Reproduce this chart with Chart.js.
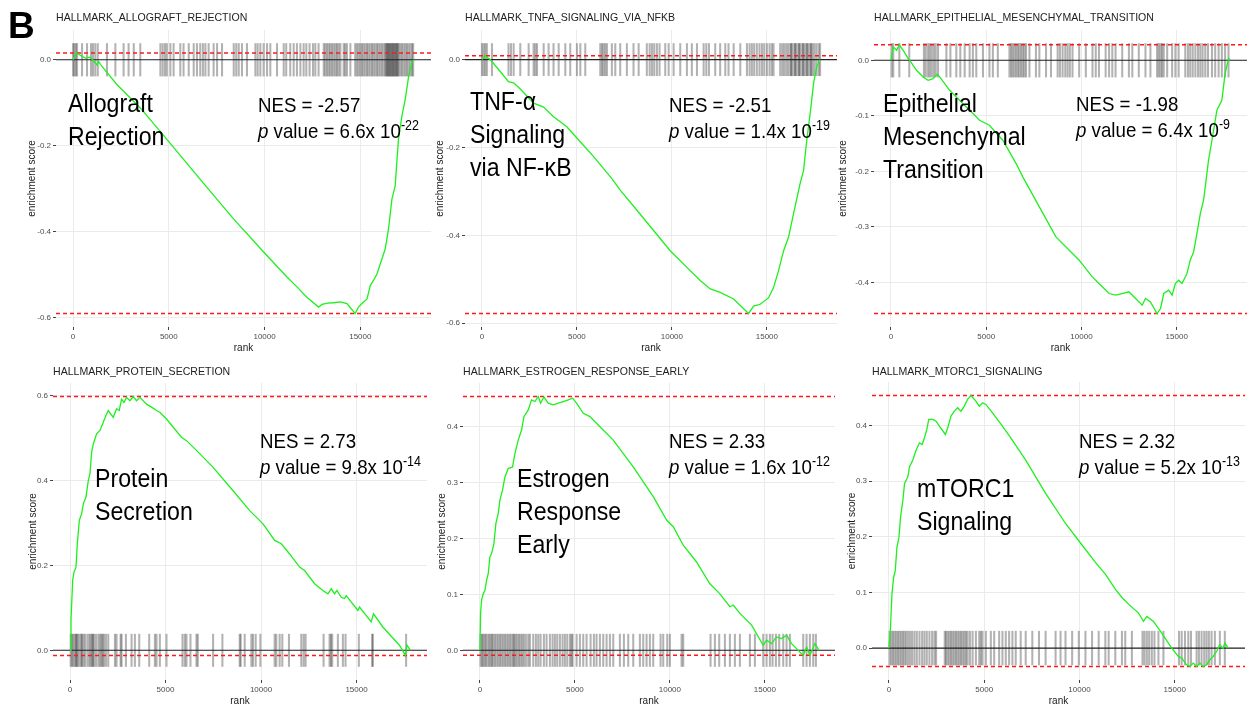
<!DOCTYPE html>
<html>
<head>
<meta charset="utf-8">
<script src="https://cdn.jsdelivr.net/npm/chart.js@4.4.1/dist/chart.umd.min.js"></script>
<style>
  html, body { margin: 0; padding: 0; background: #fff; }
  #page { position: relative; width: 1253px; height: 706px; overflow: hidden; font-family: "Liberation Sans", Arial, sans-serif; }
  #page canvas { position: absolute; }
  .txt { position: absolute; white-space: nowrap; color: #000; transform-origin: 0 0; z-index: 2; }
  .title { font-size: 11px; line-height: 13px; color: #222; transform: scaleX(0.96); }
  .name { font-size: 26px; line-height: 33px; transform: scaleX(0.89); }
  .stat { font-size: 21px; line-height: 26px; transform: scaleX(0.89); }
  .stat .sup { position: relative; top: -8px; font-size: 14px; }
  .letter { font-size: 37px; line-height: 37px; font-weight: bold; }
</style>
</head>
<body>
<div id="page"></div>
<script>
// ranked list size and x ticks
const geneCount = 17800;
const xTickValues = [0, 5000, 10000, 15000];

// HALLMARK_ALLOGRAFT_REJECTION
const allograftRank = [0,170,400,640,900,1100,1250,1340,1500,2300,3510,4900,6640,8380,9950,11170,11690,12210,12820,13000,13300,13600,13950,14300,14730,14900,15100,15350,15520,15700,15870,16040,16300,16470,16650,16820,16990,17170,17340,17520,17700,17800];
const allograftES = [0,0.016,0.010,0.004,0.006,-0.004,-0.012,-0.004,-0.015,-0.058,-0.112,-0.185,-0.278,-0.370,-0.447,-0.505,-0.528,-0.552,-0.575,-0.569,-0.566,-0.565,-0.563,-0.567,-0.590,-0.575,-0.566,-0.556,-0.525,-0.512,-0.498,-0.475,-0.440,-0.394,-0.324,-0.293,-0.185,-0.131,-0.093,-0.039,-0.005,0];
const allograftHits = [0,70,140,210,470,730,940,1040,1160,1290,1770,2210,2640,2900,3170,3510,4560,4680,4800,4900,5080,5250,5600,5770,6040,6300,6470,6640,6780,6910,7080,7340,7520,7780,8390,8520,8650,8820,9080,9520,9640,9780,9950,10130,10300,10650,11000,11130,11340,11520,11690,11870,12040,12180,12350,12530,12650,12820,13090,13170,13260,13350,13430,13520,13610,13700,13780,13870,13960,14130,14210,14300,14480,14730,14820,14910,15000,15090,15170,15260,15350,15430,15520,15610,15690,15780,15870,15950,16040,16130,16220,16300,16350,16390,16440,16480,16520,16560,16610,16650,16700,16740,16780,16830,16870,16910,16960,17000,17090,17170,17260,17350,17430,17520,17610,17700,17760];

// HALLMARK_TNFA_SIGNALING_VIA_NFKB
const tnfaRank = [0,175,300,440,965,1400,1670,2020,2720,3250,3770,4470,5175,5880,6840,7280,8160,9035,9910,10790,11490,12020,12540,13250,14035,14300,14650,15090,15350,15610,15880,16140,16400,16750,16930,17100,17280,17460,17630,17800];
const tnfaES = [0,0.009,0.004,0.000,-0.027,-0.050,-0.053,-0.067,-0.099,-0.108,-0.130,-0.153,-0.187,-0.221,-0.271,-0.297,-0.343,-0.389,-0.435,-0.473,-0.503,-0.522,-0.530,-0.545,-0.578,-0.561,-0.557,-0.542,-0.519,-0.481,-0.435,-0.404,-0.351,-0.282,-0.252,-0.183,-0.122,-0.053,-0.015,0];
const tnfaHits = [0,90,175,260,530,1400,1530,1670,2020,2460,2720,2810,2900,3250,3510,3770,4040,4390,4650,5000,5180,5440,6230,6320,6400,6490,6580,6840,7020,7280,7630,7980,8250,8680,8830,8950,9070,9210,9350,9650,9830,10090,10440,10790,11050,11320,11670,11810,11950,12280,12540,12810,12980,13250,13600,13950,14090,14210,14330,14470,14610,14740,14860,15000,15140,15260,15350,15700,15810,15910,16020,16120,16230,16280,16330,16440,16490,16540,16650,16700,16750,16860,16910,16970,17070,17120,17180,17280,17330,17390,17490,17600,17720,17800];

// HALLMARK_EPITHELIAL_MESENCHYMAL_TRANSITION
const emtRank = [0,120,300,435,645,905,990,1340,1690,1950,2210,2420,2560,3080,3600,4130,4650,5170,5870,6570,6920,7790,8660,9530,9880,10570,10920,11450,11790,12140,12490,12840,13190,13360,13620,13970,14150,14320,14580,14760,14930,15100,15280,15540,15710,15890,16060,16240,16410,16500,16670,16850,17110,17370,17540,17720,17800];
const emtES = [0,0.024,0.018,0.028,0.018,0.003,0,-0.018,-0.030,-0.036,-0.033,-0.025,-0.030,-0.054,-0.072,-0.090,-0.108,-0.117,-0.144,-0.186,-0.210,-0.264,-0.318,-0.348,-0.360,-0.390,-0.402,-0.420,-0.423,-0.420,-0.417,-0.429,-0.441,-0.429,-0.435,-0.456,-0.447,-0.420,-0.414,-0.423,-0.402,-0.396,-0.402,-0.384,-0.360,-0.345,-0.312,-0.276,-0.252,-0.228,-0.180,-0.144,-0.090,-0.072,-0.024,0.003,0];
const emtHits = [35,120,440,960,1730,1830,1950,2040,2140,2250,2350,2470,2910,3120,3430,3640,3870,4130,4300,4480,4830,5170,5350,5610,6220,6310,6390,6480,6570,6660,6740,6830,6920,7000,7090,7270,7610,7790,8140,8400,8750,8870,9010,9150,9270,9390,9530,9880,10230,10580,10750,10920,11270,11450,11620,11790,12140,12490,12670,13010,13360,13620,13970,14060,14150,14230,14320,14500,14760,14930,15100,15450,15590,15710,15840,15980,16120,16240,16360,16500,16640,16850,17020,17200,17370,17540,17720];

// HALLMARK_PROTEIN_SECRETION
const proteinRank = [0,52,140,210,314,383,488,610,697,836,958,1045,1132,1220,1394,1568,1707,1881,2003,2265,2439,2578,2700,2822,2962,3136,3310,3484,3659,4007,4268,4530,4704,5052,5836,6098,6620,7491,8537,9408,10105,10714,11063,11498,12021,12282,12805,13240,13502,13676,13850,13972,14199,14373,14460,15070,15157,15767,15889,16376,17247,17561,17631,17820];
const proteinES = [0,0.071,0.165,0.184,0.196,0.251,0.306,0.322,0.345,0.361,0.400,0.416,0.467,0.486,0.510,0.518,0.533,0.553,0.565,0.549,0.569,0.565,0.592,0.584,0.596,0.588,0.598,0.588,0.596,0.580,0.573,0.565,0.561,0.545,0.502,0.494,0.471,0.431,0.376,0.329,0.298,0.259,0.251,0.227,0.196,0.188,0.157,0.141,0.133,0.145,0.133,0.141,0.125,0.122,0.129,0.094,0.102,0.067,0.086,0.055,0.012,-0.012,0.013,0];
const proteinHits = [35,105,174,244,314,350,401,488,575,630,697,784,906,1010,1080,1150,1200,1254,1359,1481,1568,1655,1700,1777,1882,2003,2352,2439,2648,2700,2927,3223,3397,3624,4146,4443,4530,4704,5052,5889,6010,6098,6307,6620,6690,7491,7979,8885,8937,9146,9495,9582,9721,9965,10714,10801,10976,11115,11463,12108,12230,12334,13275,13589,13659,13728,14024,14286,14425,15122,15819,15854,17596];

// HALLMARK_ESTROGEN_RESPONSE_EARLY
const estrogenRank = [0,35,88,175,263,351,439,526,614,737,842,965,1053,1193,1316,1491,1719,1842,2018,2193,2316,2544,2719,2895,3070,3193,3368,3596,3860,4123,4386,4649,4877,5088,5439,5789,6316,7018,8070,9123,9825,10175,10702,11404,12105,12632,13158,13333,13684,14298,14912,15088,15351,15614,15877,16140,16404,17018,17193,17368,17632,17850];
const estrogenES = [0,0.066,0.090,0.101,0.107,0.125,0.137,0.167,0.173,0.191,0.227,0.245,0.269,0.287,0.310,0.325,0.328,0.352,0.376,0.394,0.418,0.430,0.448,0.445,0.454,0.442,0.453,0.442,0.439,0.442,0.445,0.448,0.451,0.442,0.424,0.418,0.400,0.376,0.328,0.275,0.233,0.221,0.188,0.158,0.119,0.101,0.078,0.081,0.066,0.045,0.009,0.018,0.012,0.024,0.021,0.027,0.012,-0.009,0.006,-0.009,0.012,0];
const estrogenHits = [35,105,175,246,316,404,491,561,632,702,789,877,965,1053,1140,1228,1316,1404,1491,1579,1667,1754,1807,1877,1965,2053,2140,2228,2316,2421,2544,2632,2807,2947,3070,3193,3368,3509,3684,3825,3947,4070,4211,4351,4474,4596,4737,4825,4877,5088,5263,5439,5614,5825,6000,6140,6316,6491,6667,6842,7018,7368,7579,7807,8070,8421,8596,8772,8947,9123,9509,9649,9860,10000,10614,10702,12140,12368,12596,12895,13158,13421,13684,14211,14474,14912,15088,15263,15404,15579,15754,15965,16140,16316,17018,17193,17368,17544,17684];

// HALLMARK_MTORC1_SIGNALING
const mtorcRank = [0,70,157,244,331,418,523,610,732,819,993,1080,1254,1429,1603,1742,1864,1986,2091,2300,2474,2648,2962,3084,3258,3432,3606,3780,3955,4129,4303,4564,4739,4913,5087,5436,5958,6394,7178,8223,9268,9965,10836,11359,11882,12230,12578,13101,13362,13537,13885,14321,14843,15192,15366,15627,15801,15976,16150,16324,16498,16672,16847,17021,17195,17369,17544,17631,17805];
const mtorcES = [0,0.030,0.097,0.127,0.139,0.181,0.199,0.236,0.266,0.296,0.308,0.326,0.338,0.356,0.369,0.366,0.378,0.393,0.411,0.411,0.408,0.399,0.384,0.396,0.417,0.426,0.432,0.426,0.435,0.447,0.454,0.444,0.435,0.441,0.438,0.423,0.399,0.378,0.338,0.278,0.224,0.193,0.154,0.133,0.106,0.091,0.079,0.063,0.048,0.057,0.048,0.027,0,-0.015,-0.018,-0.030,-0.033,-0.027,-0.033,-0.027,-0.033,-0.030,-0.021,-0.015,-0.006,0.006,0,0.009,0];
const mtorcHits = [35,122,209,296,383,470,557,645,732,819,906,1010,1115,1220,1341,1463,1603,1742,1864,1986,2125,2265,2387,2474,2927,2997,3084,3171,3258,3345,3432,3519,3606,3693,3780,3868,3955,4042,4129,4251,4390,4564,4739,4826,4913,5087,5348,5523,5784,5958,6132,6307,6481,6655,6916,7178,7526,7875,8223,8746,9007,9268,9617,9965,10314,10662,11010,11359,11533,11882,12230,12404,12753,13310,13415,13537,13659,13798,13937,14146,14408,15226,15366,15540,15714,15854,16150,16272,16411,16551,16672,16794,16934,17108,17369,17631];

// texts
const panelTitles = ['HALLMARK_ALLOGRAFT_REJECTION', 'HALLMARK_TNFA_SIGNALING_VIA_NFKB', 'HALLMARK_EPITHELIAL_MESENCHYMAL_TRANSITION', 'HALLMARK_PROTEIN_SECRETION', 'HALLMARK_ESTROGEN_RESPONSE_EARLY', 'HALLMARK_MTORC1_SIGNALING'];
const pathwayNames = [['Allograft', 'Rejection'], ['TNF-α', 'Signaling', 'via NF-κB'], ['Epithelial', 'Mesenchymal', 'Transition'], ['Protein', 'Secretion'], ['Estrogen', 'Response', 'Early'], ['mTORC1', 'Signaling']];
const nesValues = ['-2.57', '-2.51', '-1.98', '2.73', '2.33', '2.32'];
const pMantissa = ['6.6', '1.4', '6.4', '9.8', '1.6', '5.2'];
const pExponent = ['-22', '-19', '-9', '-14', '-12', '-13'];
const yTickSteps = [0.2, 0.2, 0.1, 0.2, 0.1, 0.1];

// layout (page pixels): plot box [left, top, right, bottom], label and stat anchors (left, baseline)
const panelLayout = [
    { box: [56, 30, 431, 327], yTitleGap: 24, name: [68, 112], stat: [258, 112] },
    { box: [465, 30, 837, 327], yTitleGap: 25, name: [470, 110], stat: [669, 112] },
    { box: [874, 30, 1247, 327], yTitleGap: 31, name: [883, 112], stat: [1076, 111] },
    { box: [53, 383, 427, 680], yTitleGap: 20, name: [95, 487], stat: [260, 448] },
    { box: [463, 383, 835, 680], yTitleGap: 21, name: [517, 487], stat: [669, 448] },
    { box: [872, 382, 1245, 680], yTitleGap: 20, name: [917, 497], stat: [1079, 448] }
];

const FONT = '"Liberation Sans", Arial, sans-serif';
const yAxisWidth = 40, xAxisHeight = 28, padTop = 12, padRight = 4;
const page = document.getElementById('page');

function addText(cls, html, left, top) {
    const d = document.createElement('div');
    d.className = 'txt ' + cls;
    d.innerHTML = html;
    d.style.left = left + 'px';
    d.style.top = top + 'px';
    page.appendChild(d);
}

function drawPanel(i, rank, es, hits) {
    const lay = panelLayout[i];
    const [L, T, R, B] = lay.box;

    const canvas = document.createElement('canvas');
    canvas.width = R - L + yAxisWidth + padRight;
    canvas.height = B - T + padTop + xAxisHeight;
    canvas.style.left = (L - yAxisWidth) + 'px';
    canvas.style.top = (T - padTop) + 'px';
    page.appendChild(canvas);

    // fgsea style: rug ticks are 1/8 of the ES range tall, axis padded by 5%
    const esMax = Math.max(...es), esMin = Math.min(...es);
    const rugHalf = (esMax - esMin) / 16;
    const lo = Math.min(esMin, -rugHalf), hi = Math.max(esMax, rugHalf);
    const pad = (hi - lo) * 0.05;
    const xMin = -geneCount * 0.05, xMax = geneCount * 1.05;

    const curve = rank.map((r, j) => ({ x: r, y: es[j] }));
    const hline = v => [{ x: xMin, y: v }, { x: xMax, y: v }];

    new Chart(canvas, {
        type: 'line',
        data: {
            datasets: [
                { data: curve, borderColor: '#1ef01e', borderWidth: 1.3, pointRadius: 0, tension: 0 },
                { data: hline(0), borderColor: '#222', borderWidth: 1.1, pointRadius: 0 },
                { data: hline(esMax), borderColor: '#ff1a1a', borderWidth: 1.5, borderDash: [4, 3], pointRadius: 0 },
                { data: hline(esMin), borderColor: '#ff1a1a', borderWidth: 1.5, borderDash: [4, 3], pointRadius: 0 },
                {
                    type: 'bar',
                    data: hits.map(r => ({ x: r, y: [-rugHalf, rugHalf] })),
                    backgroundColor: 'rgba(0,0,0,0.3)',
                    borderWidth: 0,
                    barThickness: 1.4,
                    grouped: false
                }
            ]
        },
        options: {
            responsive: false,
            animation: false,
            events: [],
            layout: { padding: { top: padTop, right: padRight, left: 0, bottom: 0 } },
            plugins: { legend: { display: false }, tooltip: { enabled: false } },
            scales: {
                x: {
                    type: 'linear',
                    min: xMin,
                    max: xMax,
                    offset: false,
                    afterFit: s => { s.height = xAxisHeight; },
                    afterBuildTicks: s => { s.ticks = xTickValues.map(v => ({ value: v })); },
                    border: { display: false },
                    grid: { color: '#ebebeb', lineWidth: 1, tickColor: '#444', tickLength: 3, tickWidth: 1, offset: false },
                    ticks: {
                        maxRotation: 0, autoSkip: false, padding: 2,
                        color: '#4d4d4d', font: { family: FONT, size: 8 },
                        callback: v => String(v)
                    },
                    title: { display: true, text: 'rank', color: '#1a1a1a', font: { family: FONT, size: 10 }, padding: { top: 0, bottom: 1 } }
                },
                y: {
                    type: 'linear',
                    min: lo - pad,
                    max: hi + pad,
                    afterFit: s => { s.width = yAxisWidth; },
                    border: { display: false },
                    grid: { color: '#ebebeb', lineWidth: 1, tickColor: '#444', tickLength: 3, tickWidth: 1 },
                    ticks: {
                        stepSize: yTickSteps[i], includeBounds: false, padding: 2,
                        color: '#4d4d4d', font: { family: FONT, size: 8 },
                        callback: v => Math.abs(v) < 1e-9 ? '0.0' : v.toFixed(1)
                    },
                    title: {
                        display: true, text: 'enrichment score', color: '#1a1a1a', font: { family: FONT, size: 10 },
                        padding: { top: Math.max(0, yAxisWidth - lay.yTitleGap - 6), bottom: 0 }
                    }
                }
            }
        }
    });

    // title, pathway name, statistics
    const titleBaseline = T < 100 ? 21.7 : 375;
    addText('title', panelTitles[i], L, titleBaseline - 10.3);
    addText('name', pathwayNames[i].join('<br>'), lay.name[0], lay.name[1] - 25.5);
    addText('stat', 'NES = ' + nesValues[i] + '<br><i>p</i> value = ' + pMantissa[i] + 'x 10<span class="sup">' + pExponent[i] + '</span>',
        lay.stat[0], lay.stat[1] - 20.3);
}

drawPanel(0, allograftRank, allograftES, allograftHits);
drawPanel(1, tnfaRank, tnfaES, tnfaHits);
drawPanel(2, emtRank, emtES, emtHits);
drawPanel(3, proteinRank, proteinES, proteinHits);
drawPanel(4, estrogenRank, estrogenES, estrogenHits);
drawPanel(5, mtorcRank, mtorcES, mtorcHits);

addText('letter', 'B', 8, 7);
</script>
</body>
</html>
